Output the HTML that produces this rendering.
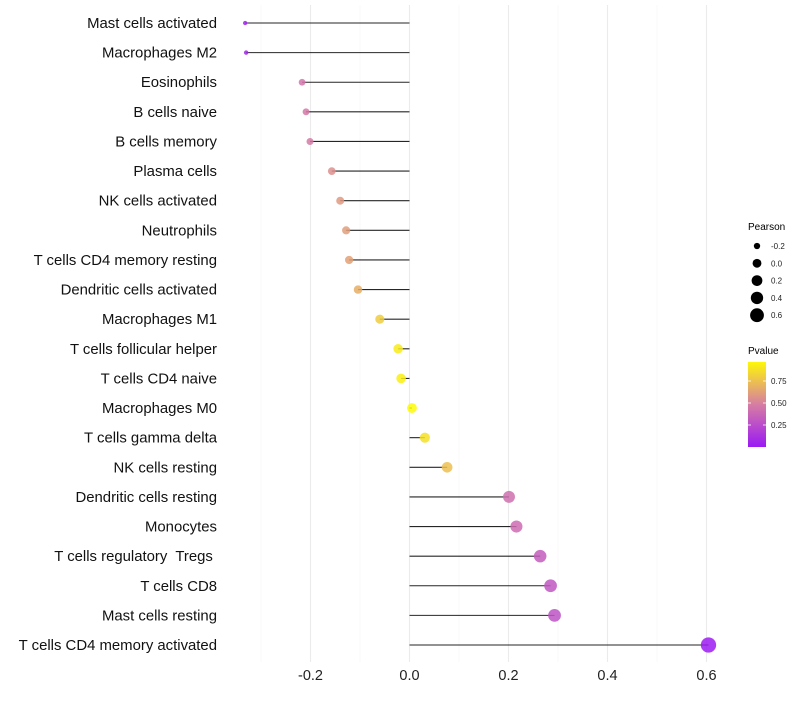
<!DOCTYPE html>
<html><head><meta charset="utf-8"><style>
body{margin:0;background:#fff;width:800px;height:700px;overflow:hidden;font-family:"Liberation Sans",sans-serif}
text{white-space:pre}
</style></head><body>
<svg id="chart" width="800" height="700" xmlns="http://www.w3.org/2000/svg">
<g id="grid"></g>
<g id="marks"></g>
<g id="ylabels"></g>
<g id="xlabels"></g>
<g id="legend"></g>
</svg>
<script>
const categories = ["Mast cells activated","Macrophages M2","Eosinophils","B cells naive","B cells memory","Plasma cells","NK cells activated","Neutrophils","T cells CD4 memory resting","Dendritic cells activated","Macrophages M1","T cells follicular helper","T cells CD4 naive","Macrophages M0","T cells gamma delta","NK cells resting","Dendritic cells resting","Monocytes","T cells regulatory  Tregs ","T cells CD8","Mast cells resting","T cells CD4 memory activated"];
const pearson = [-0.332,-0.330,-0.217,-0.209,-0.201,-0.157,-0.140,-0.128,-0.122,-0.104,-0.060,-0.023,-0.017,0.005,0.031,0.076,0.201,0.216,0.264,0.285,0.293,0.604];
const pvalue = [0.05,0.05,0.45,0.46,0.47,0.56,0.60,0.62,0.63,0.68,0.80,0.92,0.94,0.98,0.88,0.75,0.42,0.40,0.33,0.30,0.28,0.01];
const xTicks = [-0.2,0.0,0.2,0.4,0.6];
const xTickLabels = ["-0.2","0.0","0.2","0.4","0.6"];
const xMinor = [-0.3,-0.1,0.1,0.3,0.5];
const sizeBreaks = [-0.2,0.0,0.2,0.4,0.6];
const colorBreaks = [0.25,0.50,0.75];

const NS="http://www.w3.org/2000/svg";
const X = v => 409.5 + v*495;
const Y = i => 23 + i*(622/21);
const R = v => Math.sqrt(Math.max(1, 24 + 58*v));
function lerp(a,b,t){return Math.round(a+(b-a)*t);}
function colorFor(p){
  const stops=[[0,[155,25,245]],[0.5,[216,128,160]],[1,[255,255,0]]];
  let s=p<=0.5?0:1; const a=stops[s],b=stops[s+1]; const t=(p-a[0])/(b[0]-a[0]);
  return `rgb(${lerp(a[1][0],b[1][0],t)},${lerp(a[1][1],b[1][1],t)},${lerp(a[1][2],b[1][2],t)})`;
}
function mk(tag,attrs,parent){const e=document.createElementNS(NS,tag);for(const k in attrs)e.setAttribute(k,attrs[k]);parent.appendChild(e);return e;}
const grid=document.getElementById('grid'),marks=document.getElementById('marks'),yl=document.getElementById('ylabels'),xl=document.getElementById('xlabels'),lg=document.getElementById('legend');

xMinor.forEach(v=>{const l=mk('line',{x1:X(v),x2:X(v),y1:5,y2:662,stroke:'#f4f4f4','stroke-width':0.6},grid);

});
xTicks.forEach((v,i)=>{const l=mk('line',{x1:X(v),x2:X(v),y1:5,y2:662,stroke:'#ebebeb','stroke-width':1.1},grid);


const t=mk('text',{x:X(v),y:680,'text-anchor':'middle','font-size':14.5,fill:'#222'},xl);t.textContent=xTickLabels[i];

});

categories.forEach((c,i)=>{
  const y=Y(i);
  const s=mk('line',{x1:X(0),x2:X(pearson[i]),y1:y,y2:y,stroke:'#000','stroke-width':1.1,'stroke-opacity':0.85},marks);
  
  
  const d=mk('circle',{cx:X(pearson[i]),cy:y,r:R(pearson[i]),fill:colorFor(pvalue[i]),'fill-opacity':0.85},marks);
  
  
  const t=mk('text',{x:217,y:y+5,'text-anchor':'end','font-size':14.9,fill:'#111'},yl);t.textContent=c;
  
  
});

let t=mk('text',{x:748,y:230,'font-size':10,fill:'#000'},lg);t.textContent='Pearson';


sizeBreaks.forEach((v,i)=>{const y=246+i*17.3;
 const c=mk('circle',{cx:757,cy:y,r:R(v)*0.9,fill:'#000'},lg);
 
 
 const tt=mk('text',{x:771,y:y+3,'font-size':8,fill:'#222'},lg);tt.textContent=sizeBreaks[i].toFixed(1);
 
 });
t=mk('text',{x:748,y:354,'font-size':10,fill:'#000'},lg);t.textContent='Pvalue';


const defs=mk('defs',{},lg);const gr=mk('linearGradient',{id:'pg',x1:0,y1:1,x2:0,y2:0},defs);
[0,0.25,0.5,0.75,1].forEach(o=>mk('stop',{offset:o,'stop-color':colorFor(o*0.97)},gr));
const bar=mk('rect',{x:748,y:362,width:18,height:85,fill:'url(#pg)'},lg);


colorBreaks.forEach(v=>{const y=447-v*88;
 mk('line',{x1:748,x2:751,y1:y,y2:y,stroke:'#fff','stroke-width':0.8},lg);mk('line',{x1:763,x2:766,y1:y,y2:y,stroke:'#fff','stroke-width':0.8},lg);
 const tt=mk('text',{x:771,y:y+3,'font-size':8,fill:'#222'},lg);tt.textContent=v.toFixed(2);
 
 });
</script>
</body></html>
